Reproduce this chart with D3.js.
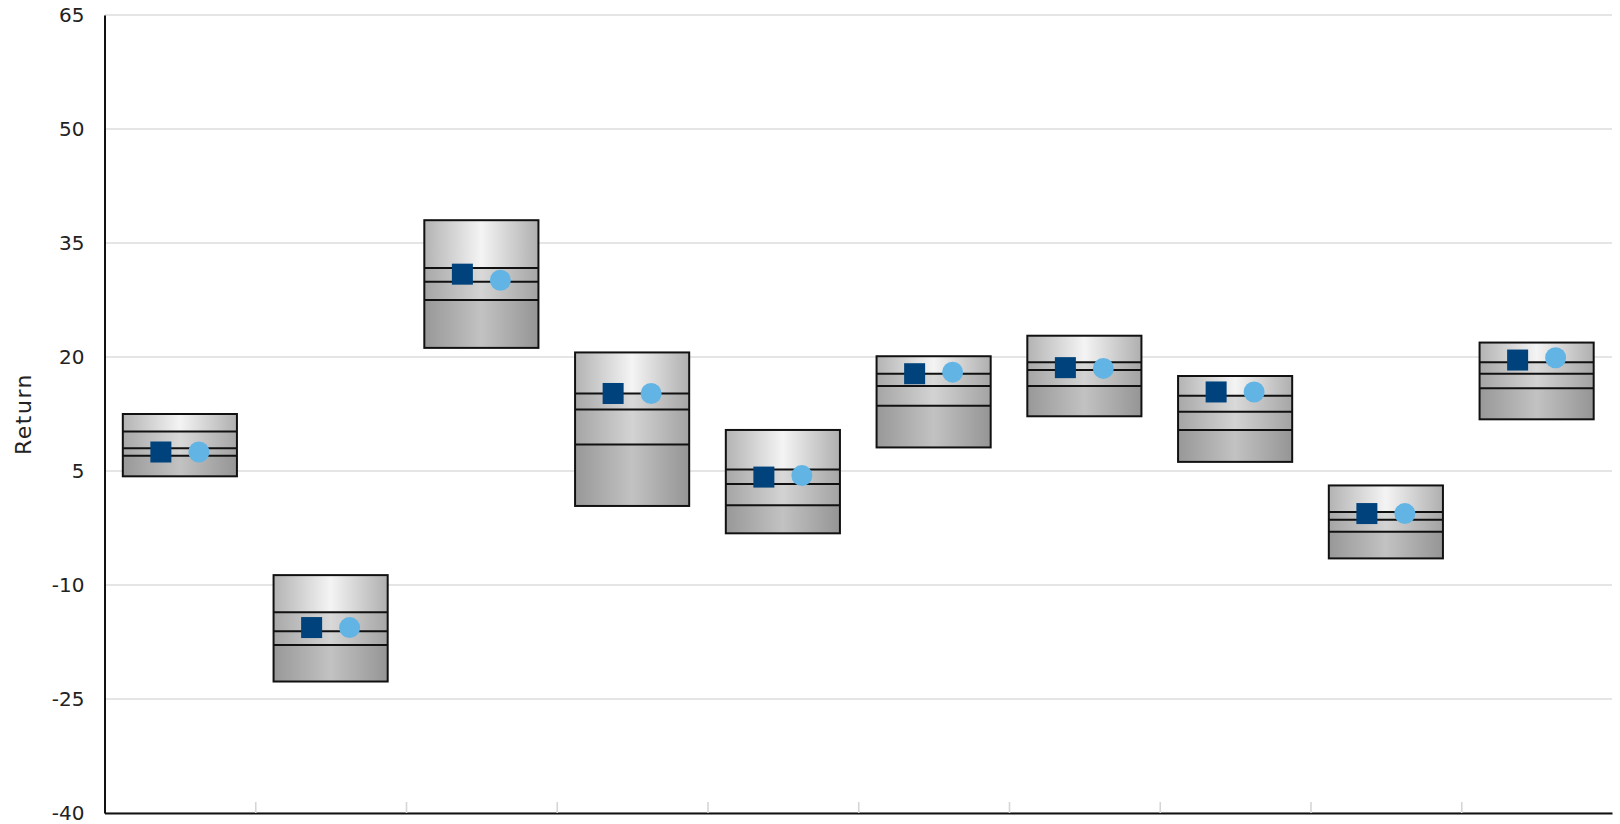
<!DOCTYPE html>
<html>
<head>
<meta charset="utf-8">
<script src="https://cdn.jsdelivr.net/npm/d3@7"></script>
<style>
  html, body { margin: 0; padding: 0; background: #ffffff; }
  svg { display: block; }
  text { font-family: "DejaVu Sans", sans-serif; fill: #222; }
</style>
</head>
<body>
<svg id="chart" width="1620" height="824"></svg>
<script>
// ---- data ----
const categories = ["1", "2", "3", "4", "5", "6", "7", "8", "9", "10"];
const pctTop    = [12.5,  -8.7, 38.0, 20.6, 10.4, 20.1, 22.8, 17.5,  3.1, 21.9];
const pct25     = [10.2, -13.6, 31.7, 15.2,  5.2, 17.8, 19.3, 14.9, -0.4, 19.3];
const pctMedian = [ 8.0, -16.1, 29.9, 13.1,  3.3, 16.2, 18.3, 12.8, -1.4, 17.8];
const pct75     = [ 7.0, -17.9, 27.5,  8.5,  0.5, 13.6, 16.2, 10.4, -3.0, 15.9];
const pctBottom = [ 4.3, -22.7, 21.2,  0.4, -3.2,  8.1, 12.2,  6.2, -6.5, 11.8];
const squareVals = [7.5, -15.6, 30.9, 15.2, 4.2, 17.8, 18.6, 15.4, -0.6, 19.6];
const circleVals = [7.5, -15.6, 30.1, 15.2, 4.4, 18.0, 18.5, 15.4, -0.6, 19.9];
const yTicks = [-40, -25, -10, 5, 20, 35, 50, 65];
const yLabel = "Return";

// ---- layout ----
const svg = d3.select("#chart");
const plotL = 104.5, plotR = 1612, plotT = 15, plotB = 813;

const y = d3.scaleLinear().domain([-40, 65]).range([plotB, plotT]);
const x = d3.scaleBand().domain(categories).range([plotL, plotR]).padding(0);
const xb = d3.scaleLinear().domain([0, categories.length]).range([plotL, plotR]);
const boxW = x.bandwidth() * 0.757;

// gradients
const defs = svg.append("defs");
const gradStops = [
  [["0%", "#b3b3b3"], ["50%", "#f4f4f4"], ["100%", "#afafaf"]],
  [["0%", "#a8a8a8"], ["50%", "#d9d9d9"], ["100%", "#a6a6a6"]],
  [["0%", "#a5a5a5"], ["50%", "#d3d3d3"], ["100%", "#a3a3a3"]],
  [["0%", "#989898"], ["50%", "#c2c2c2"], ["100%", "#959595"]]
];
gradStops.forEach((stops, i) => {
  const g = defs.append("linearGradient").attr("id", "seg" + i)
    .attr("x1", "0").attr("x2", "1").attr("y1", "0").attr("y2", "0");
  stops.forEach(s => g.append("stop").attr("offset", s[0]).attr("stop-color", s[1]));
});

// gridlines
svg.append("g").selectAll("line").data(yTicks).join("line")
  .attr("x1", plotL).attr("x2", plotR)
  .attr("y1", d => y(d)).attr("y2", d => y(d))
  .attr("stroke", "#dcdcdc").attr("stroke-width", 1.6);

// x axis (ticks at band boundaries, pointing up)
const xAxis = svg.append("g").attr("transform", `translate(0,${plotB})`)
  .call(d3.axisBottom(xb).tickValues(d3.range(1, categories.length)).tickSize(-11).tickSizeOuter(0).tickFormat(""));
xAxis.selectAll(".tick line").attr("stroke", "#d6d6d6").attr("stroke-width", 1.6);
xAxis.select(".domain").attr("stroke", "#111").attr("stroke-width", 2);

// y axis
const yAxis = svg.append("g").attr("transform", `translate(${plotL},0)`)
  .call(d3.axisLeft(y).tickValues(yTicks).tickSize(0).tickSizeOuter(0).tickPadding(20)
    .tickFormat(d => String(d)));
yAxis.select(".domain").attr("stroke", "#111").attr("stroke-width", 2);
yAxis.selectAll(".tick text").style("font-size", "20px").style("fill", "#222")
  .attr("font-family", "DejaVu Sans");

svg.append("text")
  .attr("transform", `translate(31,${(plotT + plotB) / 2}) rotate(-90)`)
  .attr("text-anchor", "middle")
  .style("font-size", "22px").style("letter-spacing", "1.5px")
  .text(yLabel);

// boxes
const boxes = svg.append("g");
categories.forEach((c, i) => {
  const cx = x(c) + x.bandwidth() / 2;
  const x0 = cx - boxW / 2;
  const levels = [pctTop[i], pct25[i], pctMedian[i], pct75[i], pctBottom[i]];
  const g = boxes.append("g");
  for (let s = 0; s < 4; s++) {
    g.append("rect")
      .attr("x", x0).attr("width", boxW)
      .attr("y", y(levels[s])).attr("height", y(levels[s + 1]) - y(levels[s]))
      .attr("fill", `url(#seg${s})`);
  }
  [1, 2, 3].forEach(k => {
    g.append("line")
      .attr("x1", x0).attr("x2", x0 + boxW)
      .attr("y1", y(levels[k])).attr("y2", y(levels[k]))
      .attr("stroke", "#111").attr("stroke-width", 2);
  });
  g.append("rect")
    .attr("x", x0).attr("width", boxW)
    .attr("y", y(levels[0])).attr("height", y(levels[4]) - y(levels[0]))
    .attr("fill", "none").attr("stroke", "#111").attr("stroke-width", 2);

  // markers
  const sq = 21;
  g.append("rect")
    .attr("x", cx - 19 - sq / 2).attr("y", y(squareVals[i]) - sq / 2)
    .attr("width", sq).attr("height", sq)
    .attr("fill", "#00427b");
  g.append("circle")
    .attr("cx", cx + 19).attr("cy", y(circleVals[i])).attr("r", 10.5)
    .attr("fill", "#62b4e4");
});
</script>
</body>
</html>
